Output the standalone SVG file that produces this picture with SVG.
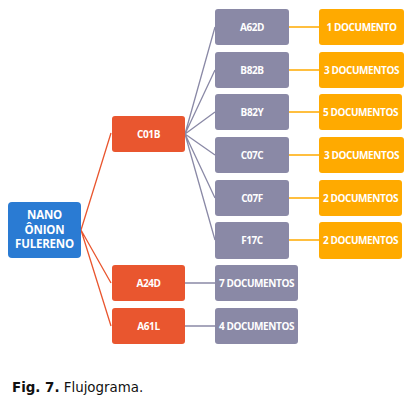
<svg xmlns="http://www.w3.org/2000/svg" width="414" height="408" viewBox="0 0 414 408">
<style>
.t{font-family:"Open Sans","Liberation Sans",sans-serif;font-weight:bold;fill:#fff;text-anchor:middle;dominant-baseline:central;font-size:10px;letter-spacing:-0.4px}
.tb{font-size:11.5px;letter-spacing:-0.2px}
.blue{fill:#2A7BD3}
.red{fill:#E9562F}
.gray{fill:#8A89A6}
.orange{fill:#FFAA00}
.lr{stroke:#E9562F;stroke-width:1.3;fill:none}
.lg{stroke:#8A89A6;stroke-width:1.3;fill:none}
.lo{stroke:#FFAA00;stroke-width:1.3;fill:none}
.cap{font-family:"DejaVu Sans",Verdana,sans-serif;font-size:13.4px;fill:#111}
</style>
<rect width="414" height="408" fill="#fff"/>
<g id="connectors">
<path class="lr" d="M81 230 L111 133 M81 230 L111 283 M81 230 L111 326"/>
<path class="lg" d="M185 134 L215 27 M185 134 L215 70 M185 134 L215 112 M185 134 L215 155 M185 134 L215 198 M185 134 L215 240"/>
<path class="lg" d="M185 283 L215 283 M185 326 L215 326"/>
<path class="lo" d="M289 27 L319 27 M289 70 L319 70 M289 112 L319 112 M289 155 L319 155 M289 198 L319 198 M289 240 L319 240"/>
</g>
<g id="n_root"><rect class="blue" x="8" y="202" width="73" height="56" rx="4"/>
<text class="t tb" x="44.5" y="214">NANO</text><text class="t tb" x="44.5" y="229">ÔNION</text><text class="t tb" x="44.5" y="243.5">FULERENO</text></g>
<g id="n_c01b"><rect class="red" x="112" y="116" width="73" height="36" rx="3"/><text class="t" x="148.5" y="134">C01B</text></g>
<g id="n_a24d"><rect class="red" x="112" y="265" width="73" height="36" rx="3"/><text class="t" x="148.5" y="283">A24D</text></g>
<g id="n_a61l"><rect class="red" x="112" y="308" width="73" height="36" rx="3"/><text class="t" x="148.5" y="326">A61L</text></g>
<g id="n_a62d"><rect class="gray" x="215" y="9" width="74" height="36" rx="3"/><text class="t" x="252" y="27">A62D</text></g>
<g id="n_b82b"><rect class="gray" x="215" y="52" width="74" height="36" rx="3"/><text class="t" x="252" y="70">B82B</text></g>
<g id="n_b82y"><rect class="gray" x="215" y="94" width="74" height="36" rx="3"/><text class="t" x="252" y="112">B82Y</text></g>
<g id="n_c07c"><rect class="gray" x="215" y="137" width="74" height="36" rx="3"/><text class="t" x="252" y="155">C07C</text></g>
<g id="n_c07f"><rect class="gray" x="215" y="180" width="74" height="36" rx="3"/><text class="t" x="252" y="198">C07F</text></g>
<g id="n_f17c"><rect class="gray" x="215" y="222" width="74" height="37" rx="3"/><text class="t" x="252" y="240">F17C</text></g>
<g id="n_7doc"><rect class="gray" x="215" y="265" width="83" height="36" rx="3"/><text class="t" x="256.5" y="283">7 DOCUMENTOS</text></g>
<g id="n_4doc"><rect class="gray" x="215" y="308" width="83" height="36" rx="3"/><text class="t" x="256.5" y="326">4 DOCUMENTOS</text></g>
<g id="n_o1"><rect class="orange" x="319" y="9" width="85" height="36" rx="3"/><text class="t" x="361.5" y="27">1 DOCUMENTO</text></g>
<g id="n_o2"><rect class="orange" x="319" y="52" width="85" height="36" rx="3"/><text class="t" x="361.5" y="70">3 DOCUMENTOS</text></g>
<g id="n_o3"><rect class="orange" x="319" y="94" width="83" height="36" rx="3"/><text class="t" x="360.5" y="112">5 DOCUMENTOS</text></g>
<g id="n_o4"><rect class="orange" x="319" y="137" width="85" height="36" rx="3"/><text class="t" x="361.5" y="155">3 DOCUMENTOS</text></g>
<g id="n_o5"><rect class="orange" x="319" y="180" width="83" height="36" rx="3"/><text class="t" x="360.5" y="198">2 DOCUMENTOS</text></g>
<g id="n_o6"><rect class="orange" x="319" y="222" width="83" height="37" rx="3"/><text class="t" x="360.5" y="240">2 DOCUMENTOS</text></g>
<text class="cap" x="12" y="392"><tspan font-weight="bold">Fig. 7.</tspan> Flujograma.</text>
</svg>
